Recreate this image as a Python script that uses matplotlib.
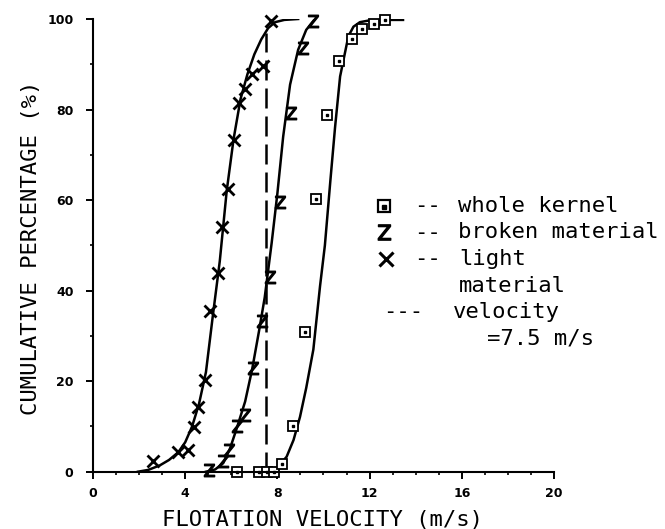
import matplotlib
matplotlib.use("Agg")
import matplotlib.pyplot as plt
from matplotlib.lines import Line2D

# measured points (flotation velocity m/s, cumulative %)
whole_x = [6.25, 7.2, 7.55, 7.85, 8.2, 8.68, 9.19, 9.67, 10.16, 10.67, 11.22, 11.69, 12.17, 12.67]
whole_y = [0, 0, 0, 0, 1.8, 10.0, 30.9, 60.2, 78.7, 90.7, 95.5, 97.8, 98.9, 99.8]

broken_x = [5.05, 5.63, 5.91, 6.26, 6.59, 6.95, 7.35, 7.70, 8.11, 8.61, 9.11, 9.55]
broken_y = [0.3, 2.4, 4.8, 10.1, 12.5, 22.8, 33.3, 43.1, 59.6, 79.2, 93.5, 99.5]

light_x = [2.61, 3.70, 4.13, 4.40, 4.57, 4.87, 5.08, 5.44, 5.58, 5.84, 6.13, 6.35, 6.59, 6.88, 7.39, 7.71]
light_y = [2.4, 4.4, 4.8, 9.9, 14.2, 20.3, 35.6, 43.8, 54.1, 62.4, 73.3, 81.5, 84.5, 87.8, 89.6, 99.6]

# fitted curves
whole_fit_x = [7.7, 7.96, 8.4, 8.7, 8.98, 9.25, 9.56, 9.85, 10.06, 10.3, 10.5, 10.72, 10.93, 11.08, 11.3, 11.58, 12.0, 12.7, 13.45]
whole_fit_y = [0, 0.7, 3.3, 7.0, 12.1, 18.5, 27.0, 41.0, 50.0, 64.4, 76.0, 87.3, 92.5, 96.2, 98.3, 99.3, 99.7, 99.8, 99.8]

broken_fit_x = [4.9, 5.3, 5.65, 5.95, 6.25, 6.6, 6.9, 7.2, 7.45, 7.75, 8.0, 8.25, 8.55, 8.9, 9.25, 9.6]
broken_fit_y = [0, 0.5, 1.9, 5.2, 9.8, 15.5, 22.5, 31.0, 38.5, 50.5, 61.5, 74.0, 85.5, 93.2, 97.6, 99.8]

light_fit_x = [1.95, 2.4, 2.9, 3.3, 3.7, 4.0, 4.3, 4.6, 4.9, 5.2, 5.5, 5.8, 6.1, 6.4, 6.7, 7.0, 7.3, 7.6, 7.9, 8.3, 8.9]
light_fit_y = [0, 0.4, 1.4, 2.6, 4.3, 6.5, 10.0, 15.0, 22.0, 34.5, 46.5, 62.0, 73.5, 82.3, 87.8, 92.2, 95.5, 98.0, 99.3, 99.8, 100]

v_ref = 7.5
v_ref_top = 97

W, H = 665, 529
fig = plt.figure(figsize=(W / 100, H / 100), dpi=100)
ax = fig.add_axes([93 / W, 1 - 471.7 / H, (554 - 93) / W, (471.7 - 19) / H])

def fx(px):
    return px / W

def fy(py):
    return 1 - py / H

lw = 1.8
ax.plot(whole_fit_x, whole_fit_y, color="black", lw=lw)
ax.plot(broken_fit_x, broken_fit_y, color="black", lw=lw)
ax.plot(light_fit_x, light_fit_y, color="black", lw=lw)
ax.plot([v_ref, v_ref], [0, v_ref_top], color="black", lw=lw, dashes=(8, 3.2))

ax.plot(whole_x, whole_y, ls="none", marker="s", ms=6.5, mfc="white", mec="black", mew=1.3, clip_on=False)
ax.plot(whole_x, whole_y, ls="none", marker="s", ms=2, color="black", clip_on=False)
ax.plot(broken_x, broken_y, ls="none", marker=r"$\mathsf{Z}$", ms=9, color="black", clip_on=False)
ax.plot(light_x, light_y, ls="none", marker="x", ms=8, mew=2, color="black", clip_on=False)

ax.set_xlim(0, 20)
ax.set_ylim(0, 100)
ax.set_xticks(range(0, 21, 4))
ax.set_xticks(range(0, 21, 1), minor=True)
ax.set_yticks(range(0, 101, 20))
ax.set_yticks(range(0, 101, 10), minor=True)
for s in ["top", "right"]:
    ax.spines[s].set_visible(False)
for s in ["left", "bottom"]:
    ax.spines[s].set_linewidth(1.5)
ax.tick_params(which="major", length=5, width=1.4, direction="out")
ax.tick_params(which="minor", length=2.5, width=1.2, direction="out")
ax.tick_params(axis="y", pad=9)
ax.tick_params(axis="x", pad=6)
for lab in ax.get_xticklabels() + ax.get_yticklabels():
    lab.set_fontweight("bold")
    lab.set_fontsize(9)

mono = "DejaVu Sans Mono"
fig.text(fx(323), fy(520), "FLOTATION VELOCITY (m/s)", family=mono, fontsize=16,
         ha="center", va="center")
fig.text(fx(31), fy(248), "CUMULATIVE PERCENTAGE (%)", family=mono, fontsize=16,
         ha="center", va="center", rotation=90)

# legend drawn by hand
rows = [212, 238.5, 265, 291.5, 318, 345]
fig.add_artist(Line2D([fx(384)], [fy(206)], marker="s", ms=9, mfc="white", mec="black", mew=1.6, ls="none"))
fig.add_artist(Line2D([fx(384)], [fy(207)], marker="s", ms=3, color="black", ls="none"))
fig.add_artist(Line2D([fx(384)], [fy(232)], marker=r"$\mathsf{Z}$", ms=11, color="black", ls="none"))
fig.add_artist(Line2D([fx(386)], [fy(258.5)], marker="x", ms=10, mew=2.2, color="black", ls="none"))

fs = 16
fig.text(fx(414), fy(rows[0]), "--", family=mono, fontsize=fs, va="baseline")
fig.text(fx(414), fy(rows[1]), "--", family=mono, fontsize=fs, va="baseline")
fig.text(fx(414), fy(rows[2]), "--", family=mono, fontsize=fs, va="baseline")
fig.text(fx(383), fy(rows[4]), "---", family=mono, fontsize=fs, va="baseline")
fig.text(fx(458), fy(rows[0]), "whole kernel", family=mono, fontsize=fs, va="baseline")
fig.text(fx(458), fy(rows[1]), "broken material", family=mono, fontsize=fs, va="baseline")
fig.text(fx(459), fy(rows[2]), "light", family=mono, fontsize=fs, va="baseline")
fig.text(fx(459), fy(rows[3]), "material", family=mono, fontsize=fs, va="baseline")
fig.text(fx(453), fy(rows[4]), "velocity", family=mono, fontsize=fs, va="baseline")
fig.text(fx(487), fy(rows[5]), "=7.5 m/s", family=mono, fontsize=fs, va="baseline")

fig.savefig("out.png", dpi=100)
